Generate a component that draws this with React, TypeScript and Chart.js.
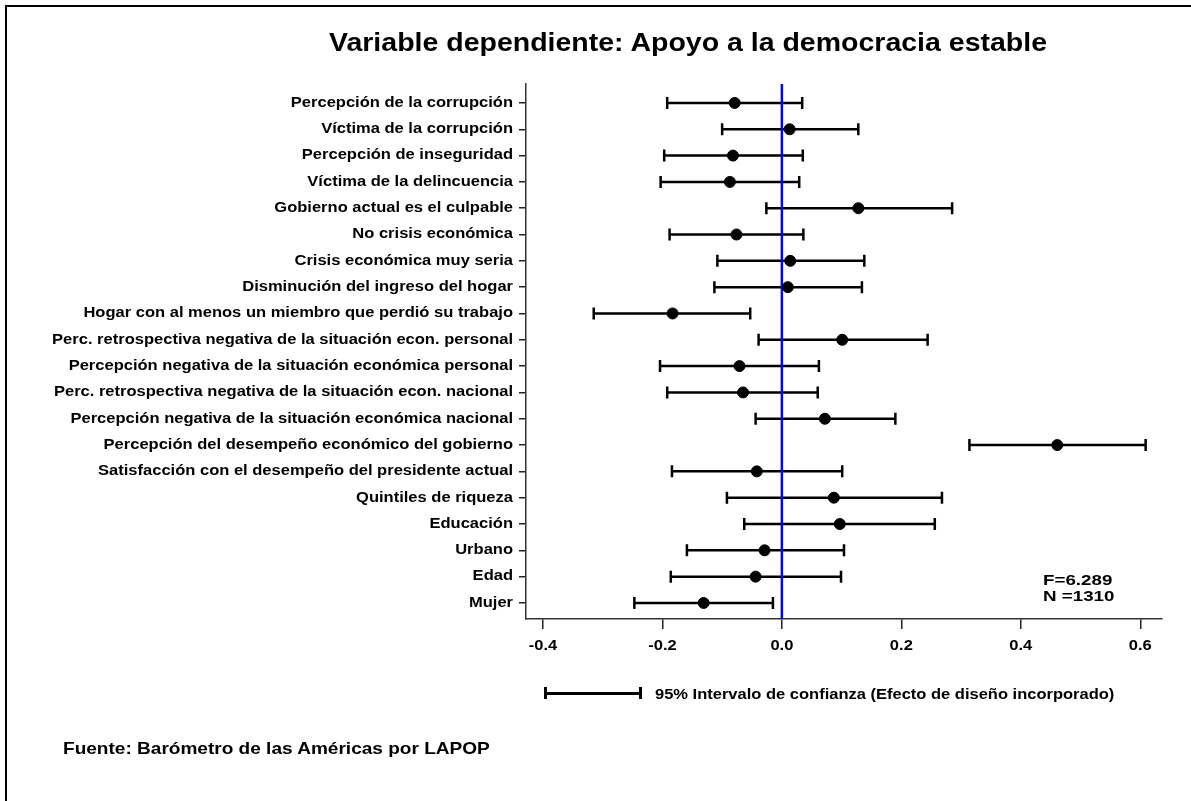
import React, { useEffect, useRef } from "react";
import { Chart, registerables } from "chart.js";

Chart.register(...registerables);

const categories: string[] = [
  "Percepción de la corrupción",
  "Víctima de la corrupción",
  "Percepción de inseguridad",
  "Víctima de la delincuencia",
  "Gobierno actual es el culpable",
  "No crisis económica",
  "Crisis económica muy seria",
  "Disminución del ingreso del hogar",
  "Hogar con al menos un miembro que perdió su trabajo",
  "Perc. retrospectiva negativa de la situación econ. personal",
  "Percepción negativa de la situación económica personal",
  "Perc. retrospectiva negativa de la situación econ. nacional",
  "Percepción negativa de la situación económica nacional",
  "Percepción del desempeño económico del gobierno",
  "Satisfacción con el desempeño del presidente actual",
  "Quintiles de riqueza",
  "Educación",
  "Urbano",
  "Edad",
  "Mujer",
];

const estimates: number[] = [
  -0.079, 0.013, -0.082, -0.087, 0.128, -0.076, 0.014, 0.01, -0.183, 0.101,
  -0.071, -0.065, 0.072, 0.461, -0.042, 0.087, 0.097, -0.029, -0.044, -0.131,
];

const lowerCI: number[] = [
  -0.192, -0.1, -0.197, -0.203, -0.026, -0.188, -0.108, -0.113, -0.315, -0.039,
  -0.204, -0.192, -0.044, 0.314, -0.184, -0.092, -0.063, -0.159, -0.186, -0.247,
];

const upperCI: number[] = [
  0.034, 0.128, 0.035, 0.029, 0.285, 0.036, 0.138, 0.134, -0.053, 0.244,
  0.062, 0.06, 0.19, 0.609, 0.101, 0.268, 0.256, 0.104, 0.099, -0.015,
];

const xTicks: number[] = [-0.4, -0.2, 0.0, 0.2, 0.4, 0.6];

const titleText = "Variable dependiente: Apoyo a la democracia estable";
const statF = "F=6.289";
const statN = "N =1310";
const legendText = "95% Intervalo de confianza (Efecto de diseño incorporado)";
const sourceText = "Fuente: Barómetro de las Américas por LAPOP";

const FONT = "'Liberation Sans', Arial, Helvetica, sans-serif";
const STRETCH = 1.18;

const errorBarPlugin = {
  id: "errorBars",
  beforeDatasetsDraw(chart: any) {
    const { ctx, scales } = chart;
    const xs = scales.x;
    const ys = scales.y;
    ctx.save();
    ctx.strokeStyle = "#000";
    ctx.lineWidth = 2.5;
    ctx.lineCap = "butt";
    const cap = 6;
    for (let i = 0; i < categories.length; i++) {
      const y = ys.getPixelForValue(i);
      const x1 = xs.getPixelForValue(lowerCI[i]);
      const x2 = xs.getPixelForValue(upperCI[i]);
      ctx.beginPath();
      ctx.moveTo(x1, y);
      ctx.lineTo(x2, y);
      ctx.moveTo(x1, y - cap);
      ctx.lineTo(x1, y + cap);
      ctx.moveTo(x2, y - cap);
      ctx.lineTo(x2, y + cap);
      ctx.stroke();
    }
    // zero reference line
    const x0 = xs.getPixelForValue(0);
    ctx.strokeStyle = "#0000ff";
    ctx.lineWidth = 2.5;
    ctx.beginPath();
    ctx.moveTo(x0, chart.chartArea.top);
    ctx.lineTo(x0, chart.chartArea.bottom);
    ctx.stroke();
    ctx.restore();
  },
  afterDraw(chart: any) {
    // axis tick labels, drawn at the scales' tick positions with a slight horizontal stretch
    const { ctx, scales } = chart;
    const xs = scales.x;
    const ys = scales.y;
    ctx.save();
    ctx.fillStyle = "#000";
    ctx.font = `bold 14px ${FONT}`;
    ctx.textBaseline = "middle";
    ctx.textAlign = "right";
    const labelRight = ys.right - 13;
    ys.ticks.forEach((t: any) => {
      const y = ys.getPixelForValue(t.value);
      const label = categories[Math.round(t.value)] ?? "";
      ctx.save();
      ctx.translate(labelRight, y);
      ctx.scale(STRETCH, 1);
      ctx.fillText(label, 0, 0);
      ctx.restore();
    });
    ctx.textAlign = "center";
    const labelY = xs.top + 27;
    xs.ticks.forEach((t: any) => {
      const x = xs.getPixelForValue(t.value);
      ctx.save();
      ctx.translate(x, labelY);
      ctx.scale(STRETCH, 1);
      ctx.fillText(Number(t.value).toFixed(1), 0, 0);
      ctx.restore();
    });
    ctx.restore();
  },
};

function ForestChart() {
  const ref = useRef<HTMLCanvasElement | null>(null);
  useEffect(() => {
    if (!ref.current) return;
    const chart = new Chart(ref.current, {
      type: "scatter",
      data: {
        datasets: [
          {
            data: estimates.map((v, i) => ({ x: v, y: i })),
            backgroundColor: "#000",
            borderColor: "#000",
            pointRadius: 5.5,
            pointHoverRadius: 5.5,
          },
        ],
      },
      options: {
        responsive: false,
        animation: false,
        events: [],
        layout: { padding: { left: 0, top: 84, right: 29, bottom: 0 } },
        plugins: {
          legend: { display: false },
          tooltip: { enabled: false },
          title: { display: false },
        },
        scales: {
          x: {
            type: "linear",
            min: -0.4284,
            max: 0.6364,
            afterBuildTicks: (scale: any) => {
              scale.ticks = xTicks.map((v) => ({ value: v }));
            },
            afterFit: (scale: any) => {
              scale.height = 182;
            },
            grid: {
              drawOnChartArea: false,
              drawTicks: true,
              tickLength: 10,
              color: "#222",
              lineWidth: 1.5,
            },
            border: { display: true, color: "#333", width: 1.5 },
            ticks: {
              display: false,
              callback: (v: any) => Number(v).toFixed(1),
            },
          },
          y: {
            type: "linear",
            reverse: true,
            min: -0.72,
            max: 19.61,
            afterBuildTicks: (scale: any) => {
              scale.ticks = categories.map((_, i) => ({ value: i }));
            },
            afterFit: (scale: any) => {
              scale.width = 526;
            },
            grid: {
              drawOnChartArea: false,
              drawTicks: true,
              tickLength: 7,
              color: "#222",
              lineWidth: 1.5,
            },
            border: { display: true, color: "#333", width: 1.5 },
            ticks: {
              display: false,
              autoSkip: false,
              callback: (v: any) => categories[Math.round(Number(v))] ?? "",
            },
          },
        },
      },
      plugins: [errorBarPlugin],
    } as any);
    return () => chart.destroy();
  }, []);
  return (
    <canvas
      ref={ref}
      width={1191}
      height={801}
      style={{ position: "absolute", left: 0, top: 0, width: 1191, height: 801 }}
    />
  );
}

export default function App() {
  const textBase: React.CSSProperties = {
    position: "absolute",
    fontFamily: FONT,
    fontWeight: "bold",
    color: "#000",
    whiteSpace: "nowrap",
    lineHeight: 1,
  };
  return (
    <div
      style={{
        position: "fixed",
        left: 0,
        top: 0,
        width: 1191,
        height: 801,
        overflow: "hidden",
        background: "#fff",
      }}
    >
      <div
        style={{
          position: "absolute",
          left: 5,
          top: 5,
          width: 1250,
          height: 900,
          border: "2px solid #000",
        }}
      />
      <ForestChart />
      <div
        style={{
          ...textBase,
          left: 688,
          top: 42,
          fontSize: 25,
          transform: "translate(-50%, -50%) scaleX(1.14)",
        }}
      >
        {titleText}
      </div>
      <div
        style={{
          ...textBase,
          left: 1043,
          top: 572,
          fontSize: 15,
          lineHeight: "16px",
          transform: "scaleX(1.25)",
          transformOrigin: "left top",
        }}
      >
        <div>{statF}</div>
        <div>{statN}</div>
      </div>
      {/* legend glyph */}
      <div style={{ position: "absolute", left: 545, top: 692, width: 95, height: 2.5, background: "#000" }} />
      <div style={{ position: "absolute", left: 544, top: 687, width: 2.5, height: 12, background: "#000" }} />
      <div style={{ position: "absolute", left: 639, top: 687, width: 2.5, height: 12, background: "#000" }} />
      <div
        style={{
          ...textBase,
          left: 655,
          top: 693,
          fontSize: 15,
          transform: "translateY(-50%) scaleX(1.1)",
          transformOrigin: "left center",
        }}
      >
        {legendText}
      </div>
      <div
        style={{
          ...textBase,
          left: 63,
          top: 748,
          fontSize: 17,
          transform: "translateY(-50%) scaleX(1.12)",
          transformOrigin: "left center",
        }}
      >
        {sourceText}
      </div>
    </div>
  );
}
